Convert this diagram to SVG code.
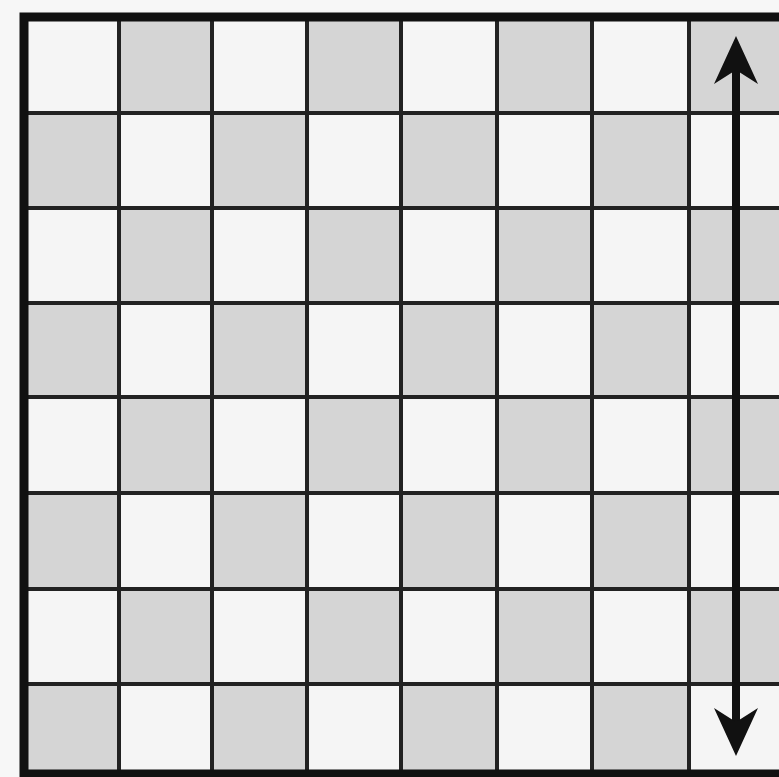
<svg xmlns="http://www.w3.org/2000/svg" width="779" height="777" viewBox="0 0 779 777">
  <style>
    .w { fill: #f5f5f5; }
    .g { fill: #d5d5d5; }
    .grid { stroke: #222; stroke-width: 4; fill: none; }
    .border { stroke: #111; stroke-width: 9; fill: none; }
    .arrow { stroke: #111; stroke-width: 8; fill: none; }
  </style>
  <defs>
    <marker id="head" markerUnits="userSpaceOnUse" viewBox="-20 -30 60 60" refX="0" refY="0" markerWidth="60" markerHeight="60" orient="auto-start-reverse">
      <path d="M34,0 L-14,-22 L0,0 L-14,22 Z" fill="#111"/>
    </marker>
  </defs>
  <rect x="0" y="0" width="779" height="777" fill="#f7f7f7"/>
  <g id="board">
    <g id="row0">
      <rect class="w" x="22" y="17" width="97" height="96"/>
      <rect class="g" x="119" y="17" width="93" height="96"/>
      <rect class="w" x="212" y="17" width="95" height="96"/>
      <rect class="g" x="307" y="17" width="94" height="96"/>
      <rect class="w" x="401" y="17" width="96" height="96"/>
      <rect class="g" x="497" y="17" width="95" height="96"/>
      <rect class="w" x="592" y="17" width="97" height="96"/>
      <rect class="g" x="689" y="17" width="96" height="96"/>
    </g>
    <g id="row1">
      <rect class="g" x="22" y="113" width="97" height="95"/>
      <rect class="w" x="119" y="113" width="93" height="95"/>
      <rect class="g" x="212" y="113" width="95" height="95"/>
      <rect class="w" x="307" y="113" width="94" height="95"/>
      <rect class="g" x="401" y="113" width="96" height="95"/>
      <rect class="w" x="497" y="113" width="95" height="95"/>
      <rect class="g" x="592" y="113" width="97" height="95"/>
      <rect class="w" x="689" y="113" width="96" height="95"/>
    </g>
    <g id="row2">
      <rect class="w" x="22" y="208" width="97" height="95"/>
      <rect class="g" x="119" y="208" width="93" height="95"/>
      <rect class="w" x="212" y="208" width="95" height="95"/>
      <rect class="g" x="307" y="208" width="94" height="95"/>
      <rect class="w" x="401" y="208" width="96" height="95"/>
      <rect class="g" x="497" y="208" width="95" height="95"/>
      <rect class="w" x="592" y="208" width="97" height="95"/>
      <rect class="g" x="689" y="208" width="96" height="95"/>
    </g>
    <g id="row3">
      <rect class="g" x="22" y="303" width="97" height="94"/>
      <rect class="w" x="119" y="303" width="93" height="94"/>
      <rect class="g" x="212" y="303" width="95" height="94"/>
      <rect class="w" x="307" y="303" width="94" height="94"/>
      <rect class="g" x="401" y="303" width="96" height="94"/>
      <rect class="w" x="497" y="303" width="95" height="94"/>
      <rect class="g" x="592" y="303" width="97" height="94"/>
      <rect class="w" x="689" y="303" width="96" height="94"/>
    </g>
    <g id="row4">
      <rect class="w" x="22" y="397" width="97" height="96"/>
      <rect class="g" x="119" y="397" width="93" height="96"/>
      <rect class="w" x="212" y="397" width="95" height="96"/>
      <rect class="g" x="307" y="397" width="94" height="96"/>
      <rect class="w" x="401" y="397" width="96" height="96"/>
      <rect class="g" x="497" y="397" width="95" height="96"/>
      <rect class="w" x="592" y="397" width="97" height="96"/>
      <rect class="g" x="689" y="397" width="96" height="96"/>
    </g>
    <g id="row5">
      <rect class="g" x="22" y="493" width="97" height="96"/>
      <rect class="w" x="119" y="493" width="93" height="96"/>
      <rect class="g" x="212" y="493" width="95" height="96"/>
      <rect class="w" x="307" y="493" width="94" height="96"/>
      <rect class="g" x="401" y="493" width="96" height="96"/>
      <rect class="w" x="497" y="493" width="95" height="96"/>
      <rect class="g" x="592" y="493" width="97" height="96"/>
      <rect class="w" x="689" y="493" width="96" height="96"/>
    </g>
    <g id="row6">
      <rect class="w" x="22" y="589" width="97" height="95"/>
      <rect class="g" x="119" y="589" width="93" height="95"/>
      <rect class="w" x="212" y="589" width="95" height="95"/>
      <rect class="g" x="307" y="589" width="94" height="95"/>
      <rect class="w" x="401" y="589" width="96" height="95"/>
      <rect class="g" x="497" y="589" width="95" height="95"/>
      <rect class="w" x="592" y="589" width="97" height="95"/>
      <rect class="g" x="689" y="589" width="96" height="95"/>
    </g>
    <g id="row7">
      <rect class="g" x="22" y="684" width="97" height="92"/>
      <rect class="w" x="119" y="684" width="93" height="92"/>
      <rect class="g" x="212" y="684" width="95" height="92"/>
      <rect class="w" x="307" y="684" width="94" height="92"/>
      <rect class="g" x="401" y="684" width="96" height="92"/>
      <rect class="w" x="497" y="684" width="95" height="92"/>
      <rect class="g" x="592" y="684" width="97" height="92"/>
      <rect class="w" x="689" y="684" width="96" height="92"/>
    </g>
  </g>
  <g id="grid">
    <path class="grid" d="M119,17V776 M212,17V776 M307,17V776 M401,17V776 M497,17V776 M592,17V776 M689,17V776 M22,113H785 M22,208H785 M22,303H785 M22,397H785 M22,493H785 M22,589H785 M22,684H785"/>
    <path class="border" d="M785,17H24V774H785"/>
  </g>
  <g id="connectors">
    <line class="arrow" x1="736" y1="70" x2="736" y2="722" marker-start="url(#head)" marker-end="url(#head)"/>
  </g>
</svg>
